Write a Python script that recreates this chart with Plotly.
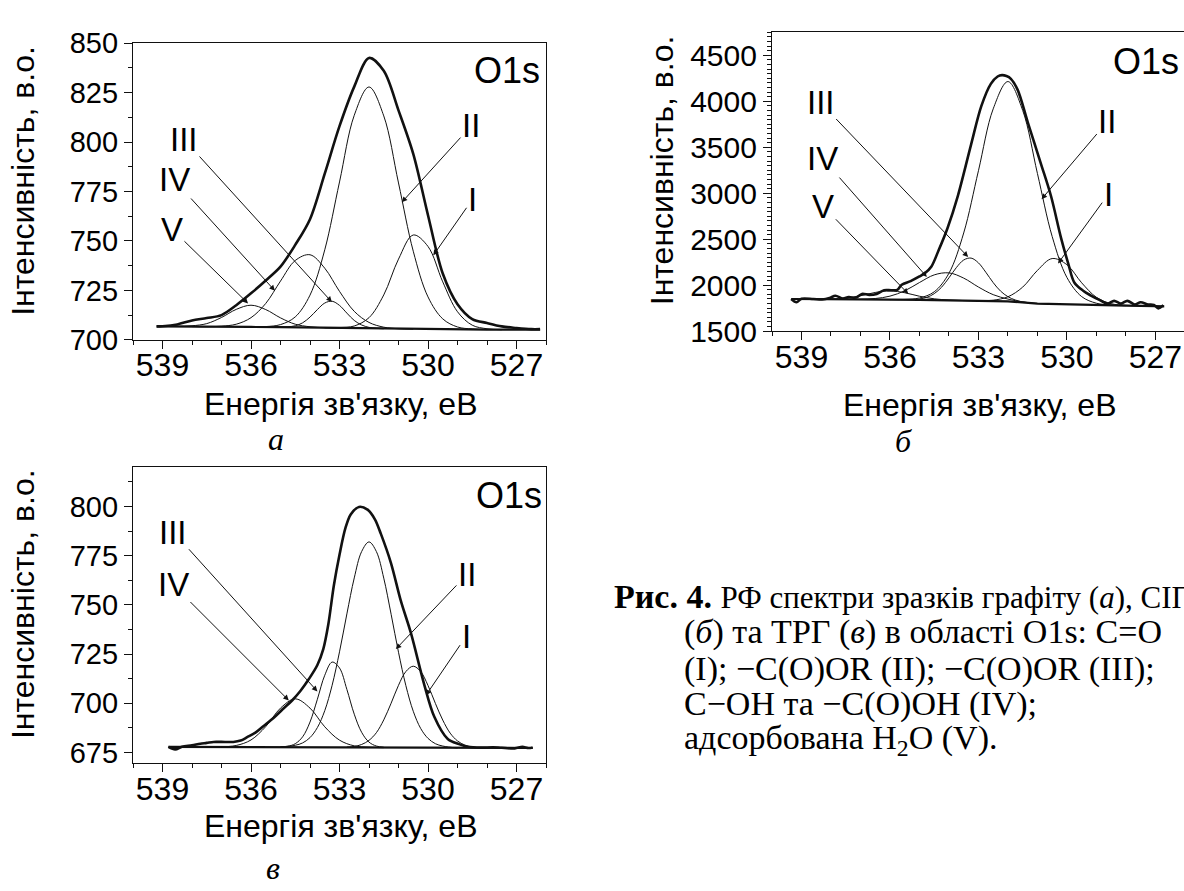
import plotly.graph_objects as go

# ---------------- panel а : graphite, O1s ----------------
A_BG_E = [539.2, 539.0, 538.0, 537.0, 536.0, 535.0, 534.0, 533.0, 532.0, 531.0, 530.0, 529.0, 528.0, 527.0, 526.2]
A_BG_I = [706.8, 706.8, 706.7, 706.6, 706.5, 706.4, 706.2, 706.0, 705.8, 705.5, 705.3, 705.2, 705.2, 705.1, 705.1]

A_ENV_E = [539.2, 539.0, 538.5, 538.0, 537.5, 537.0, 536.5, 536.0, 535.5, 535.0, 534.5, 534.0, 533.5, 533.0,
           532.5, 532.0, 531.5, 531.0, 530.5, 530.0, 529.5, 529.0, 528.5, 528.0, 527.5, 527.0, 526.5, 526.2]
A_ENV_I = [706.8, 706.9, 707.8, 709.8, 711.0, 712.5, 717.5, 723.5, 730.0, 737.0, 748.0, 761.0, 784.0, 808.0,
           828.0, 842.5, 836.0, 816.0, 794.0, 763.0, 733.5, 718.0, 710.5, 708.5, 706.8, 706.0, 705.4, 705.4]

A_I_E = [533.5, 533.0, 532.5, 532.0, 531.5, 531.0, 530.5, 530.0, 529.5, 529.0, 528.5, 528.0, 527.5]
A_I_I = [706.1, 706.2, 707.0, 711.2, 722.7, 740.8, 753.0, 747.2, 729.3, 714.2, 707.4, 705.6, 705.1]

A_II_E = [536.0, 535.5, 535.0, 534.5, 534.0, 533.5, 533.0, 532.5, 532.0, 531.5, 531.0, 530.5, 530.0, 529.5,
          529.0, 528.5, 528.0]
A_II_I = [706.5, 706.7, 707.7, 711.6, 722.6, 745.5, 779.8, 813.5, 827.8, 813.2, 779.3, 744.8, 721.7, 710.6,
          706.5, 705.5, 705.2]

A_III_E = [535.0, 534.75, 534.5, 534.25, 534.0, 533.75, 533.5, 533.25, 533.0, 532.75, 532.5, 532.25, 532.0,
           531.75, 531.5]
A_III_I = [706.4, 706.6, 707.1, 708.6, 711.5, 715.3, 718.6, 719.5, 717.4, 713.5, 709.8, 707.5, 706.3, 705.8, 705.6]

A_IV_E = [538.0, 537.5, 537.0, 536.5, 536.0, 535.5, 535.0, 534.5, 534.0, 533.5, 533.0, 532.5, 532.0, 531.5,
          531.0, 530.5]
A_IV_I = [706.7, 706.6, 706.9, 707.9, 711.2, 718.4, 729.7, 740.1, 743.0, 736.2, 724.5, 714.4, 708.8, 706.4,
          705.6, 705.4]

A_V_E = [539.0, 538.5, 538.0, 537.5, 537.0, 536.5, 536.0, 535.5, 535.0, 534.5, 534.0, 533.5, 533.0]
A_V_I = [706.8, 706.8, 707.1, 708.2, 711.3, 715.4, 717.5, 715.3, 711.1, 707.9, 706.6, 706.1, 706.0]

# ---------------- panel б ----------------
B_BG_E = [539.35, 539.0, 538.0, 537.0, 536.0, 535.0, 534.0, 533.0, 532.0, 531.0, 530.0, 529.0, 528.0, 527.0, 526.7]
B_BG_I = [1850, 1850, 1848, 1845, 1843, 1840, 1836, 1830, 1825, 1800, 1790, 1783, 1778, 1772, 1770]

B_ENV_E = [539.35, 539.17, 539.0, 538.6, 538.3, 538.05, 537.85, 537.6, 537.4, 537.15, 536.95, 536.7, 536.45,
           536.2, 535.95, 535.75, 535.6, 535.3, 535.0, 534.8, 534.6, 534.35, 534.05, 533.7, 533.25, 532.9,
           532.58, 532.35, 532.2, 532.05, 531.9, 531.67, 531.33, 530.88, 530.54, 530.2, 529.95, 529.75, 529.45,
           529.2, 528.9, 528.62, 528.4, 528.17, 527.95, 527.7, 527.5, 527.25, 527.05, 526.9, 526.73]
B_ENV_I = [1850, 1815, 1853, 1850, 1845, 1860, 1885, 1855, 1870, 1865, 1905, 1895, 1905,
           1945, 1945, 1950, 2005, 2045, 2095, 2135, 2200, 2380, 2620, 2970, 3530, 3950,
           4190, 4270, 4285, 4275, 4245, 4125, 3775, 3320, 2970, 2515, 2230, 2030, 1940,
           1890, 1840, 1800, 1830, 1800, 1830, 1790, 1815, 1790, 1785, 1748, 1783]

B_I_E = [533.0, 532.5, 532.0, 531.5, 531.0, 530.5, 530.0, 529.5, 529.0, 528.5, 528.0, 527.5]
B_I_I = [1831, 1837, 1874, 1979, 2161, 2290, 2223, 2026, 1868, 1799, 1781, 1775]

B_II_E = [536.0, 535.5, 535.0, 534.5, 534.0, 533.5, 533.0, 532.5, 532.0, 531.5, 531.0, 530.5, 530.0, 529.5,
          529.0, 528.5, 528.0]
B_II_I = [1843, 1845, 1861, 1928, 2130, 2568, 3245, 3918, 4215, 3902, 3215, 2530, 2084, 1876, 1804, 1784, 1778]

B_III_E = [535.0, 534.75, 534.5, 534.25, 534.0, 533.75, 533.5, 533.25, 533.0, 532.75, 532.5, 532.25, 532.0,
           531.75, 531.5, 531.25]
B_III_I = [1850, 1868, 1908, 1978, 2080, 2191, 2274, 2295, 2243, 2141, 2028, 1936, 1875, 1839, 1818, 1808]

B_IV_E = [537.5, 537.0, 536.5, 536.0, 535.5, 535.0, 534.5, 534.0, 533.5, 533.0, 532.5, 532.0, 531.5, 531.0, 530.5]
B_IV_I = [1846, 1847, 1855, 1881, 1939, 2029, 2112, 2134, 2077, 1980, 1897, 1849, 1818, 1801, 1795]

B_V_E = [539.0, 538.5, 538.0, 537.5, 537.0, 536.5, 536.0, 535.5, 535.0, 534.5, 534.0, 533.5, 533.0]
B_V_I = [1850, 1849, 1851, 1860, 1885, 1921, 1938, 1918, 1880, 1852, 1839, 1833, 1830]

# ---------------- panel в : ТРГ ----------------
C_BG_E = [538.8, 537.0, 535.0, 534.0, 533.0, 532.0, 531.0, 530.0, 529.0, 528.0, 527.0, 526.45]
C_BG_I = [677.8, 677.75, 677.7, 677.7, 677.6, 677.5, 677.4, 677.3, 677.2, 677.2, 677.2, 677.2]

C_ENV_E = [538.8, 538.57, 538.34, 538.0, 537.72, 537.5, 537.27, 537.0, 536.6, 536.35, 536.13, 535.85, 535.57,
           535.2, 534.89, 534.6, 534.32, 534.05, 533.75, 533.55, 533.38, 533.19, 533.0, 532.8, 532.62, 532.34,
           532.05, 531.8, 531.6, 531.26, 530.92, 530.58, 530.13, 529.79, 529.33, 528.95, 528.65, 528.2, 527.8,
           527.5, 527.06, 526.8, 526.6, 526.45]
C_ENV_I = [677.8, 676.5, 677.9, 678.6, 679.4, 679.8, 680.3, 680.3, 680.3, 681.0, 682.7, 685.0, 688.4,
           693.0, 697.4, 701.5, 706.3, 712.0, 719.4, 727.5, 740.0, 760.0, 775.5, 789.0, 796.0, 799.8,
           798.4, 793.5, 786.2, 771.5, 752.0, 735.7, 709.6, 693.2, 681.8, 679.2, 677.8, 677.4, 677.6,
           677.3, 677.0, 677.8, 677.2, 677.5]

C_I_E = [532.75, 532.5, 532.25, 532.0, 531.75, 531.5, 531.25, 531.0, 530.75, 530.5, 530.25, 530.0, 529.75,
         529.5, 529.25, 529.0, 528.75, 528.5, 528.25]
C_I_I = [677.7, 678.0, 679.0, 681.1, 685.0, 691.5, 700.0, 709.1, 716.1, 718.8, 716.1, 709.0, 699.9,
         691.4, 684.8, 680.8, 678.7, 677.7, 677.4]

C_II_E = [535.0, 534.5, 534.25, 534.0, 533.75, 533.5, 533.25, 533.0, 532.75, 532.5, 532.25, 532.0, 531.75,
          531.5, 531.25, 531.0, 530.75, 530.5, 530.25, 530.0, 529.75, 529.5, 529.0]
C_II_I = [677.8, 678.6, 679.8, 682.5, 687.6, 696.2, 709.1, 726.1, 745.4, 763.7, 777.1, 782.0, 777.1,
          763.6, 745.2, 725.9, 708.9, 695.9, 687.2, 682.1, 679.4, 678.2, 677.2]

C_III_E = [535.0, 534.75, 534.5, 534.25, 534.0, 533.75, 533.5, 533.25, 533.0, 532.75, 532.5, 532.25, 532.0,
           531.75, 531.5]
C_III_I = [677.8, 678.1, 679.4, 682.9, 690.4, 702.0, 714.2, 720.9, 717.9, 707.0, 694.4, 685.2, 680.2, 678.2, 677.6]

C_IV_E = [537.5, 537.0, 536.5, 536.0, 535.5, 535.0, 534.5, 534.0, 533.5, 533.0, 532.5, 532.0, 531.5]
C_IV_I = [677.75, 677.8, 678.5, 681.3, 688.1, 697.5, 702.2, 697.5, 688.0, 681.2, 678.3, 677.6, 677.4]

# tick labels
X_TICKS = [539, 536, 533, 530, 527]

SANS = "Liberation Sans, Arial, sans-serif"
SERIF = "Liberation Serif, Times New Roman, serif"
W, H = 1184, 891
INK = "#111111"


def px(x):
    return x / W


def py(y):
    return 1 - y / H


fig = go.Figure()

panels = [
    ("x", "y", A_BG_E, A_BG_I, A_ENV_E, A_ENV_I,
     [(A_I_E, A_I_I), (A_II_E, A_II_I), (A_III_E, A_III_I), (A_IV_E, A_IV_I), (A_V_E, A_V_I)]),
    ("x2", "y2", B_BG_E, B_BG_I, B_ENV_E, B_ENV_I,
     [(B_I_E, B_I_I), (B_II_E, B_II_I), (B_III_E, B_III_I), (B_IV_E, B_IV_I), (B_V_E, B_V_I)]),
    ("x3", "y3", C_BG_E, C_BG_I, C_ENV_E, C_ENV_I,
     [(C_I_E, C_I_I), (C_II_E, C_II_I), (C_III_E, C_III_I), (C_IV_E, C_IV_I)]),
]

for xa, ya, bge, bgi, enve, envi, comps in panels:
    fig.add_trace(go.Scatter(x=bge, y=bgi, mode="lines", xaxis=xa, yaxis=ya,
                             line=dict(color=INK, width=2.2)))
    for ce, ci in comps:
        fig.add_trace(go.Scatter(x=ce, y=ci, mode="lines", xaxis=xa, yaxis=ya,
                                 line=dict(color=INK, width=1, shape="spline", smoothing=1.0)))
    fig.add_trace(go.Scatter(x=enve, y=envi, mode="lines", xaxis=xa, yaxis=ya,
                             line=dict(color=INK, width=2.6, shape="spline", smoothing=0.9)))


def xaxis_style(domain, rng, anchor):
    return dict(domain=domain, range=rng, anchor=anchor, showline=True, linecolor=INK, linewidth=1.2,
                mirror=True, ticks="outside", ticklen=8, tickwidth=1.2, tickcolor=INK,
                tickmode="array", tickvals=X_TICKS, ticktext=[str(t) for t in X_TICKS],
                ticklabelstandoff=-11,
                tickfont=dict(family=SANS, size=32, color="black"),
                minor=dict(ticks="outside", ticklen=4, tickwidth=1, tickcolor=INK, dtick=1, tick0=527,
                           showgrid=False),
                showgrid=False, zeroline=False)


def yaxis_style(domain, rng, anchor, tick0, dtick, mdtick, fsize, mirror=True):
    return dict(domain=domain, range=rng, anchor=anchor, showline=True, linecolor=INK, linewidth=1.2,
                mirror=mirror, ticks="outside", ticklen=8, tickwidth=1.2, tickcolor=INK,
                tickmode="linear", tick0=tick0, dtick=dtick, tickformat="d",
                tickfont=dict(family=SANS, size=fsize, color="black"),
                minor=dict(ticks="outside", ticklen=4, tickwidth=1, tickcolor=INK, dtick=mdtick, tick0=tick0,
                           showgrid=False),
                showgrid=False, zeroline=False)


fig.update_layout(
    width=W, height=H, margin=dict(l=0, r=0, t=0, b=0),
    paper_bgcolor="white", plot_bgcolor="white", showlegend=False,
    xaxis=xaxis_style([px(133), px(546)], [540, 526], "y"),
    yaxis=yaxis_style([py(336), py(28)], [699.95, 850.05], "x", 700, 25, 12.5, 29),
    xaxis2=xaxis_style([px(772), 1.0], [540, 526.03], "y2"),
    yaxis2=yaxis_style([py(327), py(17)], [1499, 4750], "x2", 1500, 500, 50, 30, mirror=False),
    xaxis3=xaxis_style([px(133), px(546)], [540, 526], "y3"),
    yaxis3=yaxis_style([py(775), py(468)], [669.5, 820], "x3", 675, 25, 12.5, 29),
)

# component labels with pointer arrows: (text, label x, label y, arrow x, arrow y)
LABELS = {
    ("x", "y"): [("III", 538.27, 801.3, 533.26, 719.1), ("IV", 538.61, 780.9, 535.19, 724.8),
                 ("V", 538.68, 756.0, 536.10, 718.4), ("II", 528.54, 808.1, 530.89, 769.5),
                 ("I", 528.49, 771.1, 529.82, 742.7)],
    ("x2", "y2"): [("III", 538.35, 3984, 533.35, 2307), ("IV", 538.29, 3381, 534.75, 2090),
                   ("V", 538.26, 2857, 535.38, 1906), ("II", 528.63, 3779, 530.86, 2936),
                   ("I", 528.60, 2988, 530.30, 2237)],
    ("x3", "y3"): [("III", 538.63, 787.0, 533.75, 706.0), ("IV", 538.63, 760.1, 534.72, 701.4),
                   ("II", 528.68, 765.5, 531.09, 727.5), ("I", 528.71, 734.0, 530.07, 704.0)],
}
for (xr, yr), items in LABELS.items():
    for text, lx, ly, hx, hy in items:
        fig.add_annotation(x=hx, y=hy, ax=lx, ay=ly, xref=xr, yref=yr, axref=xr, ayref=yr,
                           text=text, showarrow=True, arrowhead=2, arrowsize=1.1, arrowwidth=1,
                           arrowcolor=INK, standoff=0, startstandoff=0,
                           font=dict(family=SANS, size=33, color="black"))

# core-level tag in each panel
for xr, yr, tx, ty in [("x", "y", 527.31, 836.0), ("x2", "y2", 527.32, 4429), ("x3", "y3", 527.26, 805.8)]:
    fig.add_annotation(x=tx, y=ty, xref=xr, yref=yr, text="O1s", showarrow=False,
                       font=dict(family=SANS, size=36, color="black"))

# axis titles
YTITLE = "Інтенсивність, в.о."
XTITLE = "Енергія зв'язку, еВ"
for cx, cy in [(23, 171), (662, 160), (23, 610)]:
    fig.add_annotation(x=px(cx), y=py(cy), xref="paper", yref="paper", text=YTITLE, textangle=-90,
                       showarrow=False, xanchor="center", yanchor="middle",
                       font=dict(family=SANS, size=32, color="black"))
for cx, cy in [(340, 402), (979, 404), (340, 840)]:
    fig.add_annotation(x=px(cx), y=py(cy), xref="paper", yref="paper", text=XTITLE,
                       showarrow=False, xanchor="center", yanchor="middle",
                       font=dict(family=SANS, size=32, color="black"))

# panel letters
for letter, cx, cy in [("а", 276, 439), ("б", 903, 441), ("в", 273, 884)]:
    fig.add_annotation(x=px(cx), y=py(cy), xref="paper", yref="paper", text="<i>" + letter + "</i>",
                       showarrow=False, xanchor="center", yanchor="middle",
                       font=dict(family=SERIF, size=32, color="black"))

# figure caption (first line runs past the right edge of the sheet)
CAPTION = [
    (611.7, 602, "<b>Рис. 4.</b> <span style=\"font-size:31px\">РФ спектри зразків графіту (<i>а</i>), СІП</span>"),
    (681.7, 639, "(<i>б</i>) та ТРГ (<i>в</i>) в області O1s: C=O"),
    (681.7, 677, "(I); −C(O)OR (II); −C(O)OR (III);"),
    (681.7, 714, "C−OH та −C(O)OH (IV);"),
    (681.7, 751, "адсорбована H<sub>2</sub>O (V)."),
]
for cx, cy, text in CAPTION:
    fig.add_annotation(x=px(cx), y=py(cy), xref="paper", yref="paper", text=text, showarrow=False,
                       xanchor="left", yanchor="middle", align="left",
                       font=dict(family=SERIF, size=34, color="black"))

fig.write_html("out.html")
